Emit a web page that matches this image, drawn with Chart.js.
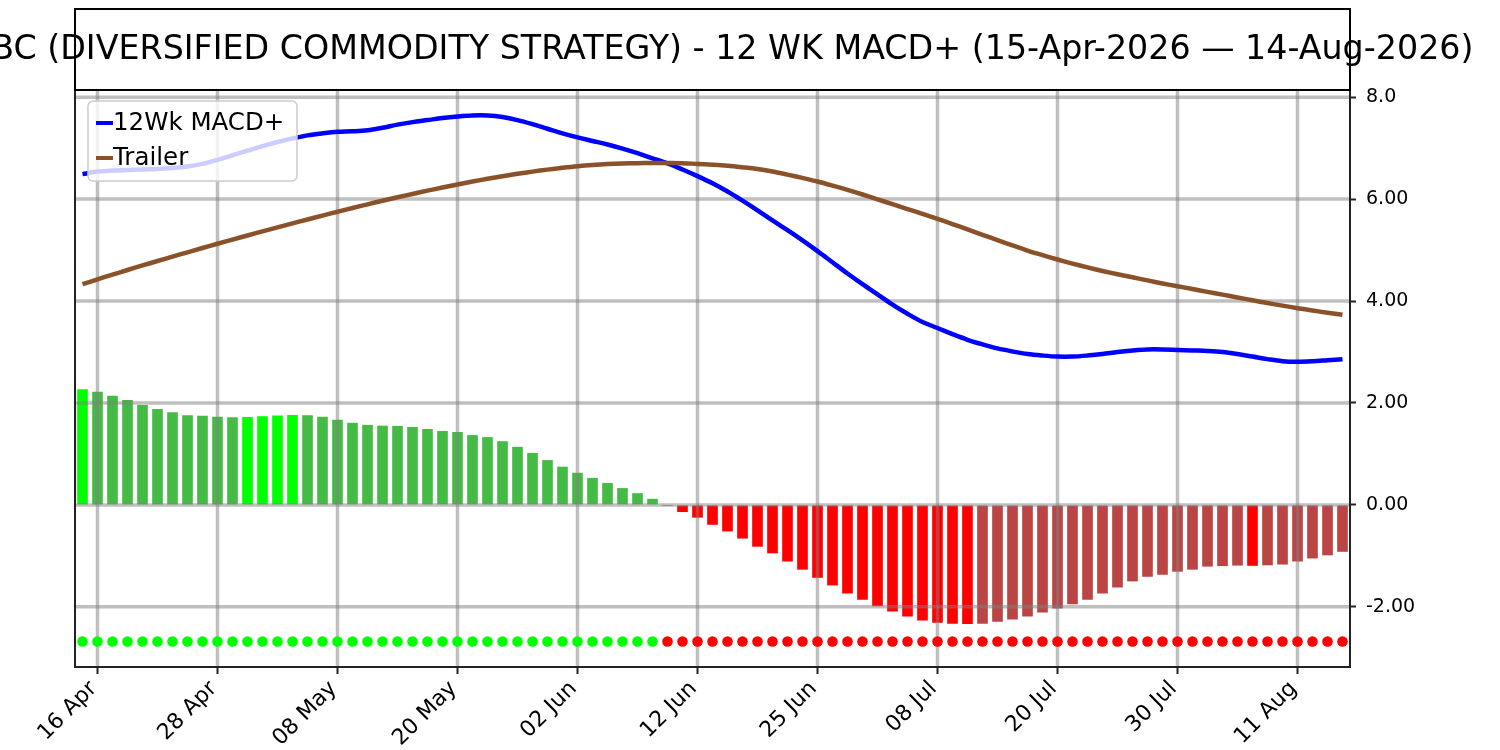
<!DOCTYPE html>
<html>
<head>
<meta charset="utf-8">
<script src="https://cdn.jsdelivr.net/npm/chart.js@4.4.1/dist/chart.umd.min.js"></script>
<style>
    body { margin: 0; background: #fff; }
    #wrap { width: 1500px; height: 750px; position: relative; }
</style>
</head>
<body>
<div id="wrap"><canvas id="macdChart"></canvas></div>
<script>
// trading days (holidays 25 May, 19 Jun, 03 Jul are missing)
const aprDays = [15, 16, 17, 20, 21, 22, 23, 24, 27, 28, 29, 30];
const mayDays = [1, 4, 5, 6, 7, 8, 11, 12, 13, 14, 15, 18, 19, 20, 21, 22, 26, 27, 28, 29];
const junDays = [1, 2, 3, 4, 5, 8, 9, 10, 11, 12, 15, 16, 17, 18, 22, 23, 24, 25, 26, 29, 30];
const julDays = [1, 2, 6, 7, 8, 9, 10, 13, 14, 15, 16, 17, 20, 21, 22, 23, 24, 27, 28, 29, 30, 31];
const augDays = [3, 4, 5, 6, 7, 10, 11, 12, 13, 14];

const macd = [
    6.49, 6.54, 6.56, 6.57, 6.58, 6.59, 6.61, 6.64, 6.69, 6.77,
    6.86, 6.95, 7.04, 7.12, 7.19, 7.25, 7.29, 7.32, 7.33, 7.35,
    7.40, 7.46, 7.51, 7.55, 7.59, 7.62, 7.64, 7.64, 7.61, 7.55,
    7.47, 7.38, 7.29, 7.21, 7.14, 7.07, 6.99, 6.90, 6.80, 6.70,
    6.58, 6.45, 6.31, 6.15, 5.97, 5.78, 5.58, 5.39, 5.19, 4.98,
    4.76, 4.54, 4.33, 4.13, 3.93, 3.75, 3.59, 3.47, 3.35, 3.24,
    3.15, 3.07, 3.01, 2.96, 2.93, 2.91, 2.91, 2.93, 2.96, 3.00,
    3.03, 3.05, 3.05, 3.04, 3.03, 3.02, 3.00, 2.96, 2.91, 2.86,
    2.82, 2.81, 2.82, 2.84, 2.86
];
const trailer = [
    4.33, 4.425, 4.518, 4.609, 4.698, 4.785, 4.871, 4.956, 5.040, 5.123,
    5.205, 5.286, 5.366, 5.445, 5.523, 5.600, 5.676, 5.751, 5.825, 5.897,
    5.967, 6.035, 6.101, 6.165, 6.227, 6.287, 6.344, 6.398, 6.449, 6.496,
    6.539, 6.578, 6.613, 6.644, 6.668, 6.686, 6.698, 6.705, 6.708, 6.708,
    6.705, 6.69, 6.675, 6.655, 6.625, 6.59, 6.54, 6.48, 6.415, 6.345,
    6.265, 6.18, 6.09, 5.995, 5.90, 5.805, 5.71, 5.61, 5.51, 5.405,
    5.30, 5.195, 5.09, 4.99, 4.90, 4.815, 4.735, 4.66, 4.59, 4.525,
    4.465, 4.405, 4.345, 4.29, 4.235, 4.18, 4.125, 4.07, 4.015, 3.96,
    3.91, 3.86, 3.815, 3.77, 3.73
];
const histogram = [
    2.27, 2.22, 2.14, 2.06, 1.96, 1.88, 1.82, 1.76, 1.75, 1.73,
    1.72, 1.725, 1.74, 1.755, 1.765, 1.76, 1.73, 1.67, 1.61, 1.57,
    1.555, 1.55, 1.53, 1.49, 1.45, 1.43, 1.37, 1.33, 1.25, 1.14,
    1.02, 0.88, 0.75, 0.63, 0.53, 0.43, 0.33, 0.23, 0.12, -0.02,
    -0.14, -0.25, -0.39, -0.52, -0.66, -0.82, -0.95, -1.11, -1.27, -1.43,
    -1.58, -1.74, -1.86, -1.99, -2.09, -2.19, -2.27, -2.31, -2.33, -2.335,
    -2.33, -2.29, -2.25, -2.19, -2.11, -2.03, -1.95, -1.86, -1.74, -1.62,
    -1.50, -1.41, -1.37, -1.31, -1.27, -1.21, -1.20, -1.19, -1.195, -1.185,
    -1.17, -1.11, -1.05, -0.99, -0.92
];
const yTicks = [-2, 0, 2, 4, 6, 8];
const signalLevel = -2.68; // row of dots under the histogram

const titleText = 'DBC (DIVERSIFIED COMMODITY STRATEGY) - 12 WK MACD+ (15-Apr-2026 \u2014 14-Aug-2026)';
const FONT = "'DejaVu Sans', 'Liberation Sans', sans-serif";

const pad2 = d => (d < 10 ? '0' : '') + d;
const dates = [].concat(
    aprDays.map(d => pad2(d) + ' Apr'),
    mayDays.map(d => pad2(d) + ' May'),
    junDays.map(d => pad2(d) + ' Jun'),
    julDays.map(d => pad2(d) + ' Jul'),
    augDays.map(d => pad2(d) + ' Aug')
);

// bright colour when histogram moves away from zero, pale when it comes back
const barColors = histogram.map((v, i) => {
    const prev = i > 0 ? histogram[i - 1] : null;
    if (v >= 0) return (prev === null || v > prev) ? '#00ff00' : '#44bb44';
    return (prev === null || v < prev) ? '#ff0000' : '#bb4444';
});
const dotColors = histogram.map(v => v >= 0 ? '#00ff00' : '#ff0000');

const GRID = 'rgba(128,128,128,0.5)';

// grid goes on top of the bars but under dots and lines
const gridPlugin = {
    id: 'gridOverBars',
    afterDatasetDraw(chart, args) {
        if (args.index !== 0) return;
        const ctx = chart.ctx;
        const area = chart.chartArea;
        const xs = chart.scales.x;
        const ys = chart.scales.y;
        ctx.save();
        ctx.beginPath();
        ctx.rect(area.left, area.top, area.right - area.left, area.bottom - area.top);
        ctx.clip();
        ctx.strokeStyle = GRID;
        ctx.lineWidth = 3.5;
        ys.ticks.forEach(t => {
            const y = ys.getPixelForValue(t.value);
            ctx.beginPath();
            ctx.moveTo(area.left, y);
            ctx.lineTo(area.right, y);
            ctx.stroke();
        });
        xs.ticks.forEach(t => {
            const x = xs.getPixelForValue(t.value);
            ctx.beginPath();
            ctx.moveTo(x, area.top);
            ctx.lineTo(x, area.bottom);
            ctx.stroke();
        });
        ctx.restore();
    }
};

// title box, plot frame and legend box
const decorPlugin = {
    id: 'decor',
    afterDraw(chart) {
        const ctx = chart.ctx;
        const area = chart.chartArea;
        ctx.save();

        // legend
        const lx = area.left + 13, ly = area.top + 11, lw = 209, lh = 80;
        ctx.fillStyle = 'rgba(255,255,255,0.8)';
        ctx.strokeStyle = '#cccccc';
        ctx.lineWidth = 1.5;
        ctx.beginPath();
        ctx.roundRect(lx, ly, lw, lh, 5);
        ctx.fill();
        ctx.stroke();
        const items = [
            { label: '12Wk MACD+', color: chart.data.datasets[2].borderColor },
            { label: 'Trailer', color: chart.data.datasets[3].borderColor }
        ];
        ctx.font = '24.5px ' + FONT;
        ctx.textBaseline = 'middle';
        ctx.textAlign = 'left';
        items.forEach((it, i) => {
            const cy = ly + 22 + i * 35;
            ctx.strokeStyle = it.color;
            ctx.lineWidth = 4;
            ctx.beginPath();
            ctx.moveTo(lx + 8, cy);
            ctx.lineTo(lx + 25, cy);
            ctx.stroke();
            ctx.fillStyle = '#000';
            ctx.fillText(it.label, lx + 25, cy + 1);
        });

        // frame around the plot
        ctx.strokeStyle = '#222';
        ctx.lineWidth = 2;
        ctx.strokeRect(area.left, area.top, area.right - area.left, area.bottom - area.top);

        // title box above the plot
        const top = 9;
        ctx.fillStyle = '#fff';
        ctx.fillRect(area.left, top, area.right - area.left, area.top - top);
        ctx.fillStyle = '#000';
        ctx.font = '33.3px ' + FONT;
        ctx.textAlign = 'center';
        ctx.textBaseline = 'middle';
        ctx.fillText(titleText, (area.left + area.right) / 2 + 7, (top + area.top) / 2 + 1);
        ctx.strokeStyle = '#000';
        ctx.lineWidth = 2;
        ctx.strokeRect(area.left, top, area.right - area.left, area.top - top);
        ctx.restore();
    }
};

new Chart(document.getElementById('macdChart'), {
    type: 'bar',
    data: {
        labels: dates,
        datasets: [
            {
                type: 'bar',
                label: 'Histogram',
                data: histogram,
                backgroundColor: barColors,
                borderWidth: 0,
                barPercentage: 0.71,
                categoryPercentage: 1.0,
                order: 4
            },
            {
                type: 'line',
                label: 'Signal',
                data: histogram.map(() => signalLevel),
                showLine: false,
                pointRadius: 5.3,
                pointBorderWidth: 0,
                pointBackgroundColor: dotColors,
                order: 3
            },
            {
                type: 'line',
                label: '12Wk MACD+',
                data: macd,
                borderColor: '#0000ff',
                borderWidth: 4.5,
                pointRadius: 0,
                tension: 0.35,
                order: 2
            },
            {
                type: 'line',
                label: 'Trailer',
                data: trailer,
                borderColor: '#8b5229',
                borderWidth: 4.5,
                pointRadius: 0,
                tension: 0.35,
                order: 1
            }
        ]
    },
    options: {
        responsive: true,
        maintainAspectRatio: false,
        animation: false,
        devicePixelRatio: 1,
        layout: { padding: { left: 75, top: 90, right: 0, bottom: 0 } },
        plugins: {
            legend: { display: false },
            title: { display: false },
            tooltip: { enabled: false }
        },
        scales: {
            x: {
                type: 'category',
                offset: true,
                grid: {
                    offset: false,
                    drawOnChartArea: false,
                    drawTicks: true,
                    tickLength: 7,
                    tickWidth: 2,
                    tickColor: '#222'
                },
                border: { display: false },
                ticks: {
                    autoSkip: false,
                    maxRotation: 45,
                    minRotation: 45,
                    padding: 2,
                    labelOffset: -4,
                    color: '#000',
                    font: { family: FONT, size: 22 }
                },
                afterBuildTicks: scale => {
                    scale.ticks = scale.ticks.filter(t => t.value % 8 === 1);
                },
                afterFit: scale => {
                    scale.height = 83;
                    scale.paddingLeft = 0;
                    scale.paddingRight = 0;
                }
            },
            y: {
                position: 'right',
                min: -3.18,
                max: 8.14,
                grid: {
                    drawOnChartArea: false,
                    drawTicks: true,
                    tickLength: 6,
                    tickWidth: 2,
                    tickColor: '#222'
                },
                border: { display: false },
                ticks: {
                    padding: 10,
                    color: '#000',
                    font: { family: FONT, size: 19 },
                    callback: v => v === 8 ? v.toFixed(1) : v.toFixed(2)
                },
                afterBuildTicks: scale => {
                    scale.ticks = yTicks.map(v => ({ value: v }));
                },
                afterFit: scale => {
                    scale.width = 150;
                    scale.paddingTop = 0;
                    scale.paddingBottom = 0;
                }
            }
        }
    },
    plugins: [gridPlugin, decorPlugin]
});
</script>
</body>
</html>
